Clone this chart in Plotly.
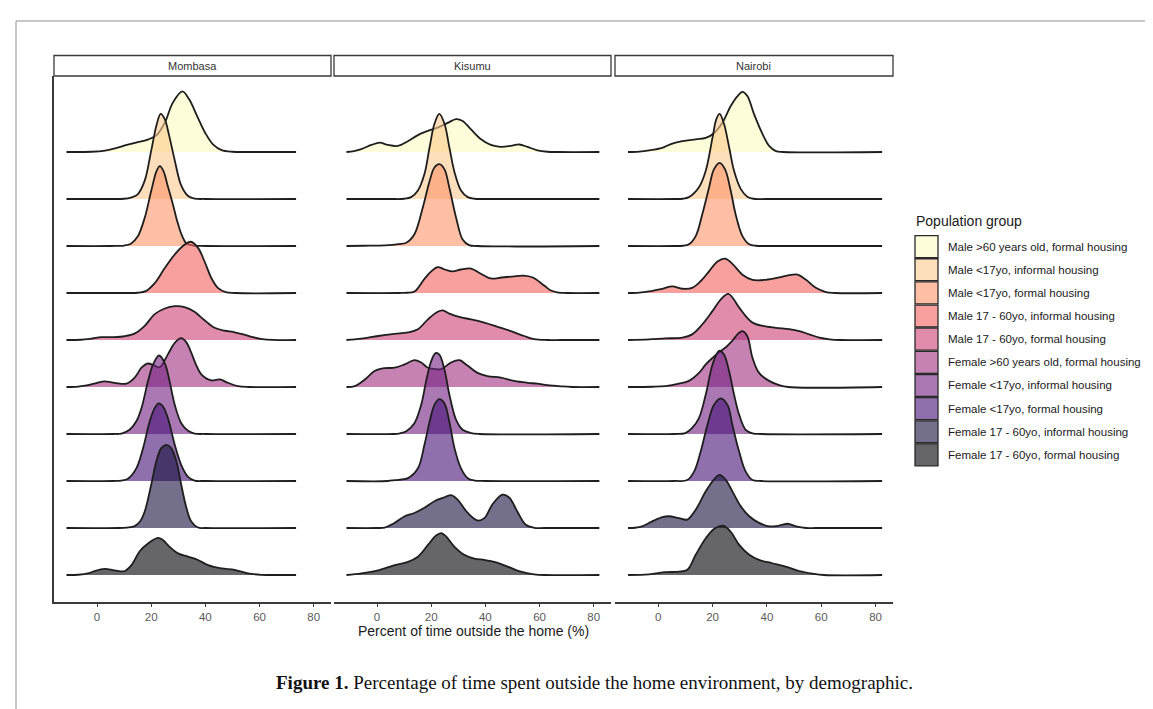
import plotly.graph_objects as go

W, H = 1153, 709

# ---------------- data ----------------
GROUPS = [
    "Male >60 years old, formal housing",
    "Male <17yo, informal housing",
    "Male <17yo, formal housing",
    "Male 17 - 60yo, informal housing",
    "Male 17 - 60yo, formal housing",
    "Female >60 years old, formal housing",
    "Female <17yo, informal housing",
    "Female <17yo, formal housing",
    "Female 17 - 60yo, informal housing",
    "Female 17 - 60yo, formal housing",
]
PALETTE = ["#FCFDBF", "#FEC98D", "#FD9567", "#F1605D", "#CD4071",
           "#9F2F7F", "#721F81", "#451077", "#180F3E", "#000004"]
CITIES = ["Mombasa", "Kisumu", "Nairobi"]
X_TICKS = [0, 20, 40, 60, 80]
X_LABEL = "Percent of time outside the home (%)"
LEGEND_TITLE = "Population group"
CAPTION_BOLD = "Figure 1."
CAPTION_TEXT = " Percentage of time spent outside the home environment, by demographic."

# ridge profiles: x (%) and ridge height (in row units)
MOMBASA_X = [
    [-11.3, -2, 3, 7, 11, 15, 19, 22, 25, 28, 31.5, 34, 37, 40, 43, 46, 50, 56, 73.5],
    [-11.3, 5, 10, 12.5, 15, 17.6, 20, 22, 23.5, 25, 26.5, 28.7, 31, 33.5, 36, 40, 73.5],
    [-11.3, 5, 10, 12.5, 15, 17.6, 20, 22, 23.2, 24.5, 26, 28, 29.5, 31.3, 33, 35.5, 40, 73.5],
    [-11.3, 10, 15, 18, 21.3, 25, 28.7, 31.5, 34.6, 37.3, 39.7, 42.2, 44.6, 47.5, 51, 73.5],
    [-11.3, -6, -2, 1.6, 6, 10.2, 14, 17.6, 21.3, 25, 28.7, 32.3, 36, 39.7, 43.4, 47, 50.5, 54, 57.5, 61, 65, 73.5],
    [-11.3, -7, -3.3, 0, 2.8, 6.5, 10.8, 13.9, 16.4, 18.8, 21, 23.1, 26.2, 28.7, 31.1, 33, 34.8, 36.5, 38.5, 42.2, 45.3, 48.3, 52, 56, 73.5],
    [-11.3, 6, 9, 12, 14.5, 16.4, 18.8, 20.7, 22.9, 25, 26.8, 28.7, 31.1, 33.6, 36, 40, 73.5],
    [-11.3, 6, 9, 11.4, 14.5, 17, 19.4, 21.3, 22.8, 24.4, 26.2, 28.7, 31.1, 33.6, 36, 40, 73.5],
    [-11.3, 8, 11, 13.9, 16, 17.6, 20, 21.9, 23.7, 25.6, 27.4, 29.3, 31.1, 33, 34.8, 37.3, 40, 73.5],
    [-11.3, -7, -3, -0.9, 2.8, 6.5, 10.2, 12.7, 15.7, 18.8, 22.5, 24.4, 26.8, 29.9, 33.6, 37.3, 41, 45.9, 50.8, 55.7, 60.6, 64, 73.5],
]
MOMBASA_H = [
    [0, 0.005, 0.03, 0.08, 0.15, 0.21, 0.27, 0.36, 0.62, 1.05, 1.29, 1.12, 0.76, 0.4, 0.15, 0.04, 0.005, 0, 0],
    [0, 0, 0.005, 0.03, 0.1, 0.39, 1.03, 1.58, 1.81, 1.7, 1.38, 0.82, 0.3, 0.07, 0.01, 0, 0],
    [0, 0, 0.01, 0.05, 0.2, 0.6, 1.17, 1.6, 1.7, 1.6, 1.3, 0.89, 0.55, 0.23, 0.06, 0.01, 0, 0],
    [0, 0, 0.005, 0.04, 0.21, 0.53, 0.82, 0.99, 1.09, 0.96, 0.67, 0.32, 0.11, 0.02, 0, 0],
    [0, 0.005, 0.03, 0.06, 0.06, 0.08, 0.14, 0.3, 0.55, 0.67, 0.72, 0.7, 0.6, 0.42, 0.26, 0.2, 0.17, 0.12, 0.06, 0.02, 0.003, 0],
    [0, 0.01, 0.04, 0.09, 0.12, 0.09, 0.07, 0.2, 0.41, 0.5, 0.46, 0.42, 0.7, 0.94, 1.04, 0.95, 0.73, 0.48, 0.27, 0.14, 0.16, 0.09, 0.02, 0, 0],
    [0, 0, 0.01, 0.09, 0.27, 0.55, 1.12, 1.48, 1.67, 1.51, 1.12, 0.62, 0.23, 0.07, 0.01, 0, 0],
    [0, 0, 0.01, 0.05, 0.27, 0.7, 1.26, 1.55, 1.65, 1.58, 1.33, 0.77, 0.34, 0.09, 0.01, 0, 0],
    [0, 0, 0.01, 0.04, 0.15, 0.35, 0.92, 1.42, 1.7, 1.77, 1.7, 1.42, 0.92, 0.43, 0.14, 0.01, 0, 0],
    [0, 0.005, 0.04, 0.085, 0.13, 0.1, 0.085, 0.21, 0.5, 0.67, 0.79, 0.74, 0.6, 0.46, 0.39, 0.32, 0.21, 0.14, 0.11, 0.035, 0.003, 0, 0],
]

KISUMU_X = [
    [-11.3, -8.5, -5.8, -2.1, 1, 4, 7.7, 11.4, 15.1, 18.8, 22.4, 26.1, 29.2, 31.6, 34.7, 38.4, 42, 45.7, 49.4, 52.5, 55.5, 59.2, 62.9, 67, 82.1],
    [-11.3, 5, 10, 12.6, 15.1, 17.5, 19.4, 21.2, 23, 24.9, 26.7, 28.6, 31, 33.5, 36, 40, 82.1],
    [-11.3, -5, 3, 8, 10.8, 13.8, 16.9, 19.4, 21.2, 23, 24.9, 26.7, 29.2, 31.6, 34, 37, 82.1],
    [-11.3, 8, 11, 13.8, 17.5, 20, 22.4, 25, 27.9, 31, 34.7, 38, 42, 46, 50, 54, 57.5, 61.7, 64, 67, 70, 82.1],
    [-11.3, -5.8, 0.4, 6.5, 11.4, 15.1, 18.8, 22.4, 24.3, 26.7, 31, 34.7, 39.6, 44.5, 49.4, 54.3, 58, 62.9, 68, 82.1],
    [-11.3, -8.2, -4.5, -0.9, 2.8, 6.5, 10.2, 13.8, 16.3, 18.8, 21.8, 23.7, 27.3, 30.4, 33.5, 37.1, 40.8, 45.7, 50.6, 55.5, 59.2, 62.9, 67.8, 72, 82.1],
    [-11.3, 6, 8.5, 10.8, 13.8, 16.3, 18.1, 20, 21.6, 23, 24.9, 26.7, 29.2, 31.6, 34.7, 38, 82.1],
    [-11.3, 4, 6.5, 11.4, 15.1, 17.5, 19.4, 21.2, 23, 24.9, 26.7, 28.6, 31, 33.5, 36, 40, 82.1],
    [-11.3, 0, 2.8, 6.5, 10.2, 13.8, 17.5, 21.2, 24.3, 27.3, 29.8, 33.5, 37.1, 39.6, 42.6, 46.3, 48.8, 51.8, 54.9, 58, 62, 82.1],
    [-11.3, -5.8, 0.4, 6.5, 11.4, 15.1, 18.8, 21.8, 23.7, 25.5, 28.6, 32.2, 35.9, 39.6, 43.3, 48.2, 53.1, 58, 62, 82.1],
]
KISUMU_H = [
    [0, 0.02, 0.06, 0.15, 0.2, 0.15, 0.13, 0.23, 0.36, 0.45, 0.52, 0.62, 0.7, 0.66, 0.48, 0.27, 0.15, 0.11, 0.13, 0.16, 0.11, 0.035, 0.005, 0, 0],
    [0, 0, 0.005, 0.04, 0.18, 0.53, 1.1, 1.6, 1.81, 1.6, 1.1, 0.57, 0.18, 0.04, 0.005, 0, 0],
    [0, 0.005, 0.015, 0.04, 0.07, 0.25, 0.82, 1.38, 1.67, 1.74, 1.63, 1.24, 0.6, 0.14, 0.02, 0, 0],
    [0, 0, 0.005, 0.03, 0.3, 0.46, 0.55, 0.5, 0.46, 0.5, 0.52, 0.42, 0.31, 0.33, 0.35, 0.37, 0.33, 0.16, 0.06, 0.01, 0, 0],
    [0, 0.03, 0.085, 0.13, 0.16, 0.23, 0.44, 0.6, 0.63, 0.56, 0.48, 0.44, 0.37, 0.28, 0.19, 0.085, 0.02, 0, 0, 0],
    [0, 0.02, 0.16, 0.34, 0.4, 0.41, 0.48, 0.57, 0.52, 0.41, 0.38, 0.38, 0.52, 0.57, 0.45, 0.3, 0.23, 0.2, 0.13, 0.09, 0.07, 0.04, 0.015, 0, 0],
    [0, 0, 0.015, 0.06, 0.23, 0.62, 1.12, 1.55, 1.72, 1.69, 1.37, 0.84, 0.3, 0.09, 0.02, 0, 0],
    [0, 0, 0.02, 0.06, 0.27, 0.77, 1.26, 1.62, 1.74, 1.65, 1.26, 0.7, 0.27, 0.06, 0.01, 0, 0],
    [0, 0, 0.01, 0.11, 0.25, 0.32, 0.43, 0.57, 0.64, 0.7, 0.6, 0.32, 0.16, 0.21, 0.5, 0.71, 0.65, 0.35, 0.07, 0.005, 0, 0],
    [0, 0.035, 0.1, 0.21, 0.28, 0.39, 0.64, 0.84, 0.89, 0.82, 0.6, 0.43, 0.35, 0.32, 0.28, 0.18, 0.07, 0.015, 0, 0],
]

NAIROBI_X = [
    [-11.1, -7, -3.4, 1.5, 5.2, 8.9, 13.8, 17.5, 20.5, 23.6, 26.7, 29.2, 31, 32.8, 35.3, 38.4, 40.8, 43.3, 46, 82.4],
    [-11.1, 6, 9, 11.3, 15, 17.5, 20, 21.4, 22.6, 24.2, 26.1, 27.9, 30.4, 32.8, 35, 40, 82.4],
    [-11.1, 6, 9, 11.3, 13.8, 16.2, 18.7, 20.5, 22.6, 24.6, 26.7, 28.5, 31, 33.5, 36, 40, 82.4],
    [-11.1, -7, -3.4, 1.5, 5.2, 8.9, 12.5, 15.6, 18.7, 21.8, 24.6, 27.3, 31, 34.7, 39.6, 44.5, 48.2, 51.3, 54.4, 58, 61.7, 65, 82.4],
    [-11.1, -3.4, 2.7, 8.9, 12.5, 16.2, 20, 23, 25.8, 29.8, 32.2, 34.7, 38.4, 43.3, 48.2, 51.9, 55.6, 59.3, 63, 67, 82.4],
    [-11.1, -2, 2.7, 7.6, 11.3, 15, 17.5, 20, 22.4, 25, 27.5, 29.5, 31, 32.8, 34.7, 37.1, 40.8, 44.5, 48, 82.4],
    [-11.1, 6, 10, 12.5, 15, 17.5, 20, 22.4, 24.2, 26.1, 27.9, 29.8, 32.2, 34.7, 38, 82.4],
    [-11.1, 6, 10.7, 13.2, 15.6, 18.1, 20.5, 23, 25.5, 27.3, 29.8, 32.2, 34.7, 38, 82.4],
    [-11.1, -8.5, -5.9, -2.2, 1.5, 3.9, 7.6, 10.7, 13.8, 17.5, 20.5, 22.6, 24.8, 27.3, 30.4, 33.5, 37.1, 40.8, 44.5, 47.6, 50.7, 54.4, 58, 82.4],
    [-11.1, -3.4, 2.7, 7.6, 10.7, 13.8, 17.5, 20.5, 23.9, 26.7, 29.8, 33.5, 37.1, 42, 46.9, 51.9, 56.8, 61, 82.4],
]
NAIROBI_H = [
    [0, 0.01, 0.035, 0.09, 0.18, 0.23, 0.27, 0.3, 0.4, 0.62, 0.98, 1.19, 1.28, 1.19, 0.8, 0.38, 0.13, 0.02, 0, 0],
    [0, 0, 0.005, 0.04, 0.25, 0.6, 1.31, 1.7, 1.81, 1.6, 1.1, 0.6, 0.21, 0.05, 0.005, 0, 0],
    [0, 0, 0.005, 0.035, 0.21, 0.67, 1.24, 1.63, 1.77, 1.63, 1.17, 0.67, 0.21, 0.035, 0.005, 0, 0],
    [0, 0.01, 0.035, 0.09, 0.14, 0.09, 0.11, 0.25, 0.46, 0.67, 0.73, 0.62, 0.39, 0.28, 0.28, 0.33, 0.38, 0.39, 0.28, 0.11, 0.02, 0, 0],
    [0, 0.015, 0.035, 0.05, 0.12, 0.33, 0.62, 0.86, 0.98, 0.69, 0.51, 0.37, 0.3, 0.26, 0.23, 0.19, 0.12, 0.05, 0.015, 0, 0],
    [0, 0.005, 0.02, 0.07, 0.13, 0.3, 0.48, 0.62, 0.74, 0.85, 1.0, 1.14, 1.19, 1.08, 0.62, 0.3, 0.13, 0.04, 0, 0],
    [0, 0, 0.02, 0.13, 0.34, 0.84, 1.48, 1.77, 1.69, 1.33, 0.84, 0.41, 0.09, 0.015, 0, 0],
    [0, 0, 0.02, 0.2, 0.62, 1.19, 1.62, 1.76, 1.62, 1.19, 0.62, 0.2, 0.02, 0, 0],
    [0, 0.005, 0.035, 0.14, 0.23, 0.25, 0.21, 0.18, 0.39, 0.78, 1.03, 1.13, 1.03, 0.78, 0.46, 0.25, 0.11, 0.035, 0.05, 0.09, 0.035, 0, 0, 0],
    [0, 0.015, 0.06, 0.07, 0.11, 0.43, 0.78, 0.98, 1.05, 0.92, 0.64, 0.43, 0.32, 0.25, 0.18, 0.085, 0.03, 0, 0],
]

CITY_X = [MOMBASA_X, KISUMU_X, NAIROBI_X]
CITY_H = [MOMBASA_H, KISUMU_H, NAIROBI_H]

# ---------------- styling / layout ----------------
FILL_ALPHA = 0.6
LINE_COLOR = "#1e1e1e"
AXIS_COLOR = "#3a3a3a"
FONT = "Liberation Sans, Arial, sans-serif"
SERIF = "Liberation Serif, Times New Roman, serif"

PANELS_PX = [(46, 323), (326, 603), (607, 885)]
PANEL_TOP, PANEL_BOTTOM = 68, 594
STRIP_TOP = 47.5
X_RANGE = [-15.9, 86.4]
Y_RANGE = [-0.5745, 10.617]


def rgba(hx, a):
    hx = hx.lstrip("#")
    r, g, b = int(hx[0:2], 16), int(hx[2:4], 16), int(hx[4:6], 16)
    return f"rgba({r},{g},{b},{a})"


def px(x):
    return x / W


def py(y):
    return 1 - y / H


fig = go.Figure()
n = len(GROUPS)
for ci, city in enumerate(CITIES):
    sfx = "" if ci == 0 else str(ci + 1)
    for gi in range(n):
        base = n - 1 - gi
        ys = [base + h for h in CITY_H[ci][gi]]
        fig.add_trace(go.Scatter(
            x=CITY_X[ci][gi], y=ys, xaxis="x" + sfx, yaxis="y" + sfx,
            mode="lines", fill="toself", fillcolor=rgba(PALETTE[gi], FILL_ALPHA),
            line=dict(shape="spline", smoothing=1.0, color=LINE_COLOR, width=1.8),
            showlegend=False, hoverinfo="skip",
        ))

layout = dict(
    width=W, height=H, margin=dict(l=0, r=0, t=0, b=0),
    paper_bgcolor="white", plot_bgcolor="rgba(0,0,0,0)",
    font=dict(family=FONT, color="#1a1a1a"),
    showlegend=False,
)
for ci in range(len(CITIES)):
    sfx = "" if ci == 0 else str(ci + 1)
    x0, x1 = PANELS_PX[ci]
    layout["xaxis" + sfx] = dict(
        domain=[px(x0), px(x1)], range=X_RANGE, anchor="y" + sfx,
        tickvals=X_TICKS, ticktext=[str(t) for t in X_TICKS],
        ticks="outside", ticklen=3, tickwidth=1.2, tickcolor=AXIS_COLOR,
        showline=True, linecolor=AXIS_COLOR, linewidth=1.5,
        showgrid=False, zeroline=False,
        tickfont=dict(family=FONT, size=11.5, color="#5a5a5a"),
    )
    layout["yaxis" + sfx] = dict(
        domain=[py(PANEL_BOTTOM), py(PANEL_TOP)], range=Y_RANGE, anchor="x" + sfx,
        showticklabels=False, ticks="", showgrid=False, zeroline=False,
        showline=(ci == 0), linecolor=AXIS_COLOR, linewidth=1.5,
    )
fig.update_layout(**layout)

shapes = []
annotations = []

# page frame
shapes.append(dict(type="line", xref="paper", yref="paper", x0=px(8), x1=1, y0=py(13), y1=py(13),
                   line=dict(color="#b4b4b4", width=1.5)))
shapes.append(dict(type="line", xref="paper", yref="paper", x0=px(8), x1=px(8), y0=py(13), y1=0,
                   line=dict(color="#b4b4b4", width=1.5)))

# facet strips
for ci, city in enumerate(CITIES):
    x0, x1 = PANELS_PX[ci]
    shapes.append(dict(type="rect", xref="paper", yref="paper",
                       x0=px(x0), x1=px(x1), y0=py(PANEL_TOP), y1=py(STRIP_TOP),
                       line=dict(color=AXIS_COLOR, width=1.3), fillcolor="white"))
    annotations.append(dict(text=city, xref="paper", yref="paper", x=px((x0 + x1) / 2),
                            y=py((PANEL_TOP + STRIP_TOP) / 2), showarrow=False,
                            xanchor="center", yanchor="middle",
                            font=dict(family=FONT, size=11, color="#333333")))

# x-axis title
annotations.append(dict(text=X_LABEL, xref="paper", yref="paper",
                        x=px((PANELS_PX[0][0] + PANELS_PX[-1][1]) / 2), y=py(623),
                        showarrow=False, xanchor="center", yanchor="middle",
                        font=dict(family=FONT, size=14, color="#1a1a1a")))

# legend
LEG_X0, LEG_X1 = 907, 930
LEG_TOP, KEY_H = 227, 23.15
annotations.append(dict(text=LEGEND_TITLE, xref="paper", yref="paper", x=px(906), y=py(213),
                        showarrow=False, xanchor="left", yanchor="middle",
                        font=dict(family=FONT, size=14, color="#1a1a1a")))
for gi, g in enumerate(GROUPS):
    t = LEG_TOP + gi * KEY_H
    shapes.append(dict(type="rect", xref="paper", yref="paper",
                       x0=px(LEG_X0), x1=px(LEG_X1), y0=py(t + KEY_H - 0.6), y1=py(t + 0.6),
                       line=dict(color="#2a2a2a", width=1.3), fillcolor=rgba(PALETTE[gi], FILL_ALPHA)))
    annotations.append(dict(text=g, xref="paper", yref="paper", x=px(938), y=py(t + KEY_H / 2),
                            showarrow=False, xanchor="left", yanchor="middle",
                            font=dict(family=FONT, size=11.5, color="#1a1a1a")))

# caption
annotations.append(dict(text=f"<b>{CAPTION_BOLD}</b>{CAPTION_TEXT}", xref="paper", yref="paper",
                        x=px(586), y=py(674), showarrow=False, xanchor="center", yanchor="middle",
                        font=dict(family=SERIF, size=19, color="#111111")))

fig.update_layout(shapes=shapes, annotations=annotations)
fig.write_html("out.html")
